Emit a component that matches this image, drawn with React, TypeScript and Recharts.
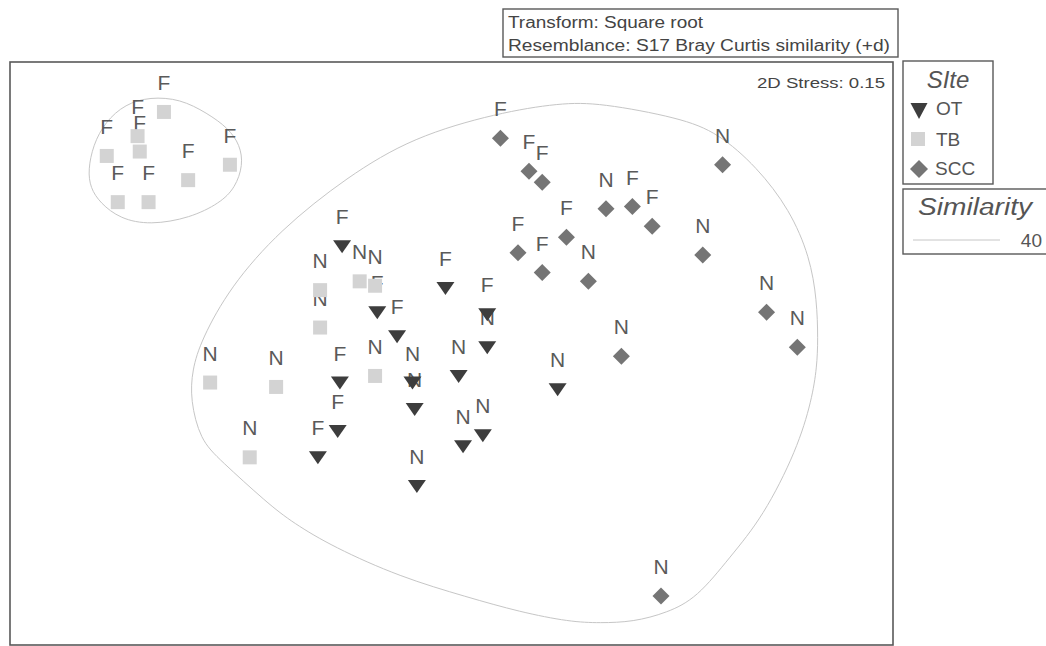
import React from "react";
import { ScatterChart, Scatter, XAxis, YAxis } from "recharts";

const FONT = '"Liberation Sans", Arial, sans-serif';

type Pt = { x: number; y: number; zone: "F" | "N" };
type XY = { x: number; y: number };

// nMDS ordination coordinates
const tbPoints: Pt[] = [
  { x: -1.31, y: 1.1, zone: "F" },
  { x: -1.43, y: 0.99, zone: "F" },
  { x: -1.42, y: 0.92, zone: "F" },
  { x: -1.57, y: 0.9, zone: "F" },
  { x: -1.01, y: 0.86, zone: "F" },
  { x: -1.2, y: 0.79, zone: "F" },
  { x: -1.52, y: 0.69, zone: "F" },
  { x: -1.38, y: 0.69, zone: "F" },
  { x: -0.42, y: 0.33, zone: "N" },
  { x: -0.35, y: 0.31, zone: "N" },
  { x: -0.6, y: 0.29, zone: "N" },
  { x: -0.6, y: 0.12, zone: "N" },
  { x: -1.1, y: -0.13, zone: "N" },
  { x: -0.8, y: -0.15, zone: "N" },
  { x: -0.35, y: -0.1, zone: "N" },
  { x: -0.92, y: -0.47, zone: "N" },
];

const otPoints: Pt[] = [
  { x: -0.5, y: 0.49, zone: "F" },
  { x: -0.03, y: 0.3, zone: "F" },
  { x: -0.34, y: 0.19, zone: "F" },
  { x: 0.16, y: 0.18, zone: "F" },
  { x: -0.25, y: 0.08, zone: "F" },
  { x: -0.51, y: -0.13, zone: "F" },
  { x: -0.52, y: -0.35, zone: "F" },
  { x: -0.61, y: -0.47, zone: "F" },
  { x: 0.16, y: 0.03, zone: "N" },
  { x: 0.03, y: -0.1, zone: "N" },
  { x: -0.18, y: -0.13, zone: "N" },
  { x: -0.17, y: -0.25, zone: "N" },
  { x: 0.14, y: -0.37, zone: "N" },
  { x: 0.05, y: -0.42, zone: "N" },
  { x: -0.16, y: -0.6, zone: "N" },
  { x: 0.48, y: -0.16, zone: "N" },
];

const sccPoints: Pt[] = [
  { x: 0.22, y: 0.98, zone: "F" },
  { x: 0.35, y: 0.83, zone: "F" },
  { x: 0.41, y: 0.78, zone: "F" },
  { x: 0.82, y: 0.67, zone: "F" },
  { x: 0.91, y: 0.58, zone: "F" },
  { x: 0.52, y: 0.53, zone: "F" },
  { x: 0.3, y: 0.46, zone: "F" },
  { x: 0.41, y: 0.37, zone: "F" },
  { x: 0.7, y: 0.66, zone: "N" },
  { x: 1.23, y: 0.86, zone: "N" },
  { x: 0.62, y: 0.33, zone: "N" },
  { x: 1.14, y: 0.45, zone: "N" },
  { x: 1.43, y: 0.19, zone: "N" },
  { x: 1.57, y: 0.03, zone: "N" },
  { x: 0.77, y: -0.01, zone: "N" },
  { x: 0.95, y: -1.1, zone: "N" },
];

// 40% similarity outlines
const contourSmall: XY[] = [
  { x: -1.373, y: 1.168 },
  { x: -1.236, y: 1.159 },
  { x: -1.114, y: 1.095 },
  { x: -1.018, y: 1.027 },
  { x: -0.964, y: 0.95 },
  { x: -0.95, y: 0.859 },
  { x: -0.986, y: 0.755 },
  { x: -1.055, y: 0.686 },
  { x: -1.191, y: 0.618 },
  { x: -1.373, y: 0.586 },
  { x: -1.509, y: 0.614 },
  { x: -1.6, y: 0.686 },
  { x: -1.645, y: 0.755 },
  { x: -1.655, y: 0.836 },
  { x: -1.632, y: 0.95 },
  { x: -1.577, y: 1.055 },
  { x: -1.486, y: 1.136 },
];

const contourLarge: XY[] = [
  { x: 0.491, y: 1.141 },
  { x: 0.673, y: 1.141 },
  { x: 1.036, y: 1.073 },
  { x: 1.209, y: 1.005 },
  { x: 1.386, y: 0.85 },
  { x: 1.536, y: 0.655 },
  { x: 1.627, y: 0.441 },
  { x: 1.659, y: 0.245 },
  { x: 1.664, y: 0.064 },
  { x: 1.659, y: -0.059 },
  { x: 1.636, y: -0.209 },
  { x: 1.568, y: -0.436 },
  { x: 1.414, y: -0.741 },
  { x: 1.264, y: -0.923 },
  { x: 1.114, y: -1.109 },
  { x: 0.977, y: -1.177 },
  { x: 0.823, y: -1.218 },
  { x: 0.673, y: -1.223 },
  { x: 0.536, y: -1.218 },
  { x: 0.309, y: -1.173 },
  { x: 0.068, y: -1.105 },
  { x: -0.236, y: -1.014 },
  { x: -0.541, y: -0.877 },
  { x: -0.723, y: -0.768 },
  { x: -0.841, y: -0.677 },
  { x: -1.055, y: -0.482 },
  { x: -1.145, y: -0.391 },
  { x: -1.19, y: -0.209 },
  { x: -1.182, y: -0.073 },
  { x: -1.14, y: 0.064 },
  { x: -1.009, y: 0.305 },
  { x: -0.782, y: 0.564 },
  { x: -0.477, y: 0.805 },
  { x: -0.177, y: 0.986 },
  { x: 0.205, y: 1.095 },
];

const siteNames = ["OT", "TB", "SCC"];
const similarityLevel = 40;

const COL_OT = "#3d3d3d";
const COL_TB = "#d3d3d3";
const COL_SCC = "#757575";
const COL_CONTOUR = "#c6c6c6";
const COL_TEXT = "#555";

const tri = (cx: number, cy: number, w = 9, t = 6, b = 7) =>
  `${cx - w},${cy - t} ${cx + w},${cy - t} ${cx},${cy + b}`;
const dia = (cx: number, cy: number, r = 8.5) =>
  `${cx},${cy - r} ${cx + r},${cy} ${cx},${cy + r} ${cx - r},${cy}`;

const ZoneLabel = (props: any) => (
  <text
    x={props.cx}
    y={props.cy - 22}
    textAnchor="middle"
    fontSize={21}
    fontFamily={FONT}
    fill="#5a5a5a"
  >
    {props.payload.zone}
  </text>
);

const OtShape = (props: any) => <polygon points={tri(props.cx, props.cy)} fill={COL_OT} />;
const TbShape = (props: any) => (
  <rect x={props.cx - 7} y={props.cy - 7} width={14} height={14} fill={COL_TB} />
);
const SccShape = (props: any) => <polygon points={dia(props.cx, props.cy)} fill={COL_SCC} />;
const NoShape = () => <g />;

const allPoints = [...tbPoints, ...otPoints, ...sccPoints];

export default function App() {
  return (
    <div style={{ position: "absolute", left: 0, top: 0, width: 1046, height: 646, background: "#fff" }}>
      <ScatterChart width={1046} height={646} margin={{ top: 62, right: 153, bottom: 1, left: 10 }}>
        <XAxis type="number" dataKey="x" domain={[-2.01, 2.005]} hide allowDataOverflow height={0} />
        <YAxis type="number" dataKey="y" domain={[-1.323, 1.327]} hide allowDataOverflow width={0} />
        <Scatter
          data={contourSmall}
          line={{ stroke: COL_CONTOUR, strokeWidth: 1 }}
          lineJointType="basisClosed"
          shape={NoShape}
          isAnimationActive={false}
        />
        <Scatter
          data={contourLarge}
          line={{ stroke: COL_CONTOUR, strokeWidth: 1 }}
          lineJointType="basisClosed"
          shape={NoShape}
          isAnimationActive={false}
        />
        <Scatter data={allPoints} shape={ZoneLabel} isAnimationActive={false} />
        <Scatter data={tbPoints} shape={TbShape} isAnimationActive={false} />
        <Scatter data={otPoints} shape={OtShape} isAnimationActive={false} />
        <Scatter data={sccPoints} shape={SccShape} isAnimationActive={false} />
      </ScatterChart>

      <svg
        width={1046}
        height={646}
        style={{ position: "absolute", left: 0, top: 0, pointerEvents: "none" }}
        fontFamily={FONT}
      >
        {/* plot frame */}
        <rect x={10} y={62} width={883} height={583} fill="none" stroke="#595959" strokeWidth={1.6} />

        {/* transform / resemblance box */}
        <rect x={503} y={9} width={395} height={48} fill="none" stroke="#595959" strokeWidth={1.4} />
        <text x={508} y={28} fontSize={16} fill="#444" textLength={195} lengthAdjust="spacingAndGlyphs">
          Transform: Square root
        </text>
        <text x={508} y={51} fontSize={16} fill="#444" textLength={382} lengthAdjust="spacingAndGlyphs">
          Resemblance: S17 Bray Curtis similarity (+d)
        </text>
        <text x={757} y={88} fontSize={15} fill="#444" textLength={128} lengthAdjust="spacingAndGlyphs">
          2D Stress: 0.15
        </text>

        {/* site legend */}
        <rect x={903} y={61} width={90} height={123} fill="none" stroke="#595959" strokeWidth={1.4} />
        <text x={948} y={88} fontSize={24} fontStyle="italic" fill={COL_TEXT} textAnchor="middle">
          SIte
        </text>
        <polygon points={tri(919, 111, 8.5, 8, 8)} fill={COL_OT} />
        <text x={936} y={115} fontSize={19} fill={COL_TEXT}>{siteNames[0]}</text>
        <rect x={911} y={132} width={14} height={14} fill={COL_TB} />
        <text x={936} y={146} fontSize={19} fill={COL_TEXT}>{siteNames[1]}</text>
        <polygon points={dia(919, 169, 9)} fill={COL_SCC} />
        <text x={935} y={175} fontSize={19} fill={COL_TEXT}>{siteNames[2]}</text>

        {/* similarity legend */}
        <rect x={903} y={189} width={150} height={65} fill="none" stroke="#595959" strokeWidth={1.4} />
        <text x={918} y={215} fontSize={23} fontStyle="italic" fill={COL_TEXT} textLength={114} lengthAdjust="spacingAndGlyphs">
          Similarity
        </text>
        <line x1={913} y1={240} x2={1000} y2={240} stroke={COL_CONTOUR} strokeWidth={1} />
        <text x={1042} y={247} fontSize={19} fill={COL_TEXT} textAnchor="end">
          {similarityLevel}
        </text>
      </svg>
    </div>
  );
}
